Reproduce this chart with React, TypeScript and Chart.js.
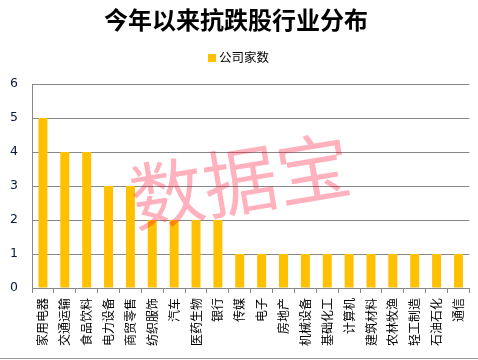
import React, { useEffect, useRef } from "react";
import { Chart, registerables } from "chart.js";

Chart.register(...registerables);

const categories: string[] = [
  "家用电器", "交通运输", "食品饮料", "电力设备", "商贸零售",
  "纺织服饰", "汽车", "医药生物", "银行", "传媒",
  "电子", "房地产", "机械设备", "基础化工", "计算机",
  "建筑材料", "农林牧渔", "轻工制造", "石油石化", "通信",
];
const companyCounts: number[] = [5, 4, 4, 3, 3, 2, 2, 2, 2, 1, 1, 1, 1, 1, 1, 1, 1, 1, 1, 1];
const seriesName = "公司家数";
const titleText = "今年以来抗跌股行业分布";
const watermarkText = "数据宝";
const barColor = "#FFC000";

const CJK = '"Noto Sans CJK SC", "Noto Sans", sans-serif';

const legendAndWatermarkPlugin = {
  id: "legendAndWatermark",
  afterDraw(chart: any) {
    const ctx = chart.ctx as CanvasRenderingContext2D;
    // legend
    ctx.save();
    ctx.font = `400 12.5px ${CJK}`;
    const textW = ctx.measureText(seriesName).width;
    const totalW = 8 + 3 + textW;
    const startX = Math.round(chart.width / 2 - totalW / 2);
    ctx.fillStyle = barColor;
    ctx.fillRect(startX, 54, 8, 8);
    ctx.fillStyle = "#000";
    ctx.textAlign = "left";
    ctx.textBaseline = "middle";
    ctx.fillText(seriesName, startX + 11, 57);
    ctx.restore();
    // watermark
    ctx.save();
    ctx.translate(240, 181);
    ctx.rotate(-9.5 * Math.PI / 180);
    ctx.font = `400 74px ${CJK}`;
    ctx.fillStyle = "rgba(255, 0, 40, 0.3)";
    ctx.textAlign = "center";
    ctx.textBaseline = "middle";
    ctx.fillText(watermarkText, 0, 0);
    ctx.restore();
    // bottom frame line
    ctx.save();
    ctx.strokeStyle = "#9a9a9a";
    ctx.lineWidth = 1;
    ctx.beginPath();
    ctx.moveTo(0, 358.5);
    ctx.lineTo(chart.width, 358.5);
    ctx.stroke();
    ctx.restore();
  },
};

export default function App() {
  const ref = useRef<HTMLCanvasElement | null>(null);
  useEffect(() => {
    if (!ref.current) return;
    const chart = new Chart(ref.current, {
      type: "bar",
      data: {
        labels: categories,
        datasets: [
          {
            label: seriesName,
            data: companyCounts,
            backgroundColor: barColor,
            borderWidth: 0,
            categoryPercentage: 1,
            barPercentage: 0.41,
          },
        ],
      },
      options: {
        animation: false,
        responsive: false,
        maintainAspectRatio: false,
        layout: { padding: { top: 0, right: 6, bottom: 10, left: 0 } },
        plugins: {
          title: {
            display: true,
            text: titleText,
            color: "#000",
            font: { family: CJK, size: 24, weight: "bold", lineHeight: 1.2 },
            padding: { top: 5.6, bottom: 49.6 },
          },
          legend: { display: false },
          tooltip: { enabled: false },
        },
        scales: {
          x: {
            grid: {
              display: true,
              drawOnChartArea: false,
              drawTicks: true,
              tickLength: 5,
              color: "#888",
              offset: true,
            },
            border: { display: true, color: "#888" },
            ticks: {
              color: "#000",
              font: { family: CJK, size: 12 },
              minRotation: 90,
              maxRotation: 90,
              autoSkip: false,
              padding: 5,
            },
            afterFit: (s: any) => {
              s.height = 62;
            },
          },
          y: {
            min: 0,
            max: 6,
            grid: { color: "#888", drawTicks: false },
            border: { display: true, color: "#888" },
            ticks: {
              stepSize: 1,
              color: "#0a1a3a",
              font: { family: '"DejaVu Sans", sans-serif', size: 12.5 },
              padding: 14,
            },
            afterFit: (s: any) => {
              s.width = 32;
            },
          },
        },
      },
      plugins: [legendAndWatermarkPlugin],
    });
    return () => chart.destroy();
  }, []);
  return (
    <div style={{ position: "absolute", left: 0, top: 0, width: 478, height: 360, background: "#fff" }}>
      <canvas ref={ref} width={478} height={360} style={{ width: 478, height: 360 }} />
    </div>
  );
}
